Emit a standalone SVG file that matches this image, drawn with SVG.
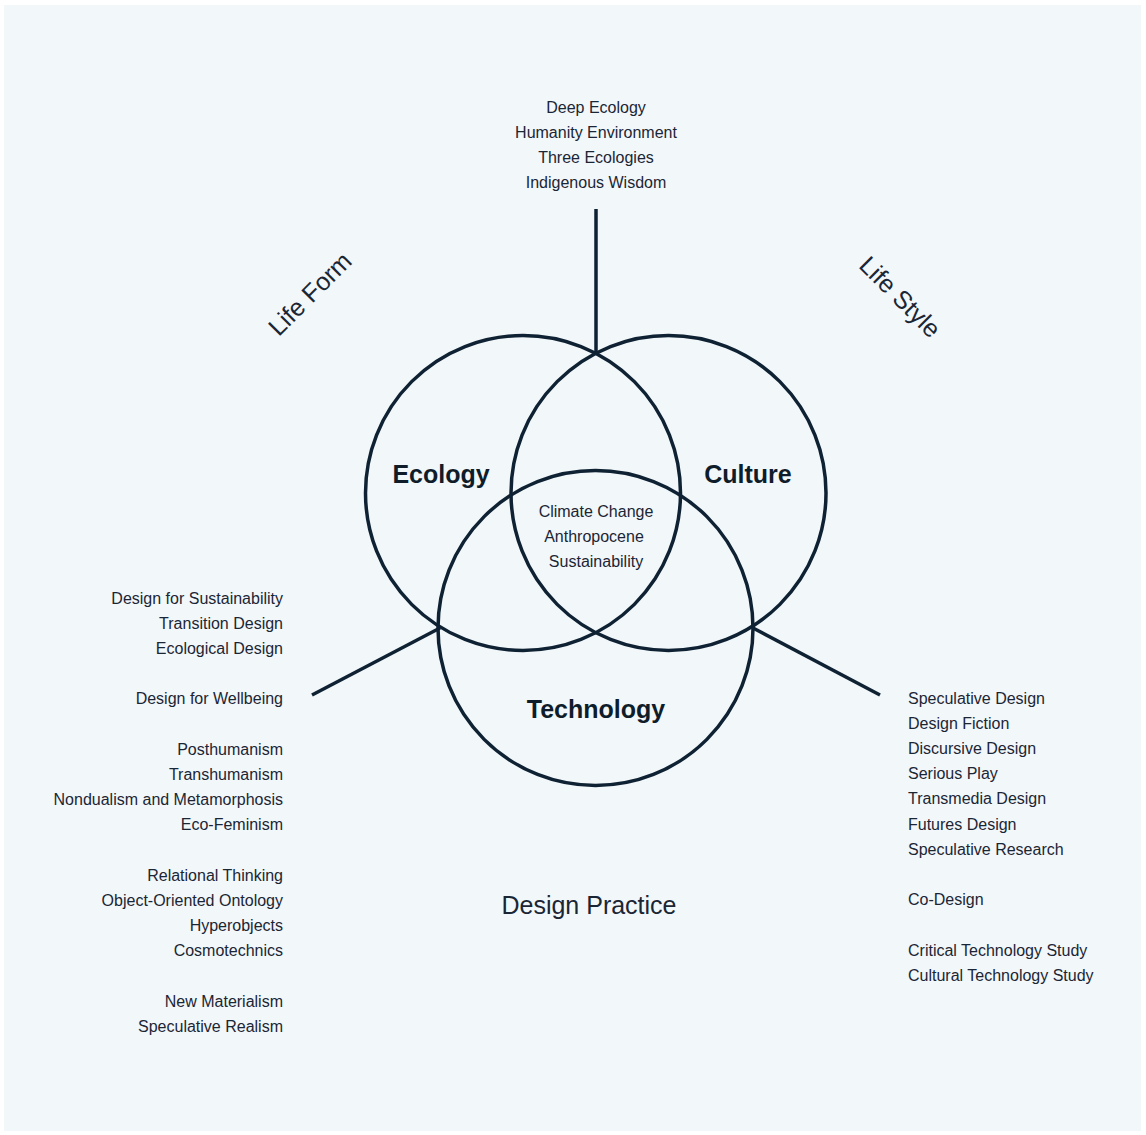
<svg xmlns="http://www.w3.org/2000/svg" width="1146" height="1135" viewBox="0 0 1146 1135">
<style>
.t{font-family:"Liberation Sans",Arial,sans-serif;font-size:16px;fill:#1b2635}
.c{text-anchor:middle}
.r{text-anchor:end}
.b{font-family:"Liberation Sans",Arial,sans-serif;font-size:25px;font-weight:bold;fill:#0f1d2b;text-anchor:middle}
.big{font-family:"Liberation Sans",Arial,sans-serif;font-size:25px;fill:#1b2635;text-anchor:middle}
.circ{fill:none;stroke:#0f2233;stroke-width:3.5}
.ln{stroke:#0f2233;stroke-width:3.5;fill:none}
</style>
<rect width="1146" height="1135" fill="#ffffff"/>
<rect x="4" y="5" width="1137" height="1126" fill="#f2f7fa"/>
<g id="connectors">
<line class="ln" x1="596" y1="209" x2="596" y2="354"/>
<line class="ln" x1="312" y1="695" x2="440" y2="628"/>
<line class="ln" x1="753" y1="628" x2="880" y2="695"/>
</g>
<g id="ecology">
<circle class="circ" cx="523" cy="493" r="157.5"/>
<text class="b" x="441" y="483">Ecology</text>
</g>
<g id="culture">
<circle class="circ" cx="668.5" cy="493" r="157.5"/>
<text class="b" x="748" y="483">Culture</text>
</g>
<g id="technology">
<circle class="circ" cx="595.5" cy="628" r="157.5"/>
<text class="b" x="596" y="718">Technology</text>
</g>
<g id="center">
<text class="t c" x="596" y="517">Climate Change</text>
<text class="t c" x="594" y="542">Anthropocene</text>
<text class="t c" x="596" y="567">Sustainability</text>
</g>
<g id="top-list">
<text class="t c" x="596" y="113">Deep Ecology</text>
<text class="t c" x="596" y="138">Humanity Environment</text>
<text class="t c" x="596" y="163">Three Ecologies</text>
<text class="t c" x="596" y="188">Indigenous Wisdom</text>
</g>
<g id="life-form">
<text class="big" transform="translate(316,300) rotate(-45)" font-size="22">Life Form</text>
</g>
<g id="life-style">
<text class="big" transform="translate(894,303) rotate(45)" font-size="22">Life Style</text>
</g>
<g id="left-list">
<text class="t r" x="283" y="604">Design for Sustainability</text>
<text class="t r" x="283" y="629">Transition Design</text>
<text class="t r" x="283" y="654">Ecological Design</text>
<text class="t r" x="283" y="704">Design for Wellbeing</text>
<text class="t r" x="283" y="755">Posthumanism</text>
<text class="t r" x="283" y="780">Transhumanism</text>
<text class="t r" x="283" y="805">Nondualism and Metamorphosis</text>
<text class="t r" x="283" y="830">Eco-Feminism</text>
<text class="t r" x="283" y="881">Relational Thinking</text>
<text class="t r" x="283" y="906">Object-Oriented Ontology</text>
<text class="t r" x="283" y="931">Hyperobjects</text>
<text class="t r" x="283" y="956">Cosmotechnics</text>
<text class="t r" x="283" y="1007">New Materialism</text>
<text class="t r" x="283" y="1032">Speculative Realism</text>
</g>
<g id="right-list">
<text class="t" x="908" y="704">Speculative Design</text>
<text class="t" x="908" y="729">Design Fiction</text>
<text class="t" x="908" y="754">Discursive Design</text>
<text class="t" x="908" y="779">Serious Play</text>
<text class="t" x="908" y="804">Transmedia Design</text>
<text class="t" x="908" y="830">Futures Design</text>
<text class="t" x="908" y="855">Speculative Research</text>
<text class="t" x="908" y="905">Co-Design</text>
<text class="t" x="908" y="956">Critical Technology Study</text>
<text class="t" x="908" y="981">Cultural Technology Study</text>
</g>
<g id="design-practice">
<text class="big" x="589" y="914">Design Practice</text>
</g>
</svg>
